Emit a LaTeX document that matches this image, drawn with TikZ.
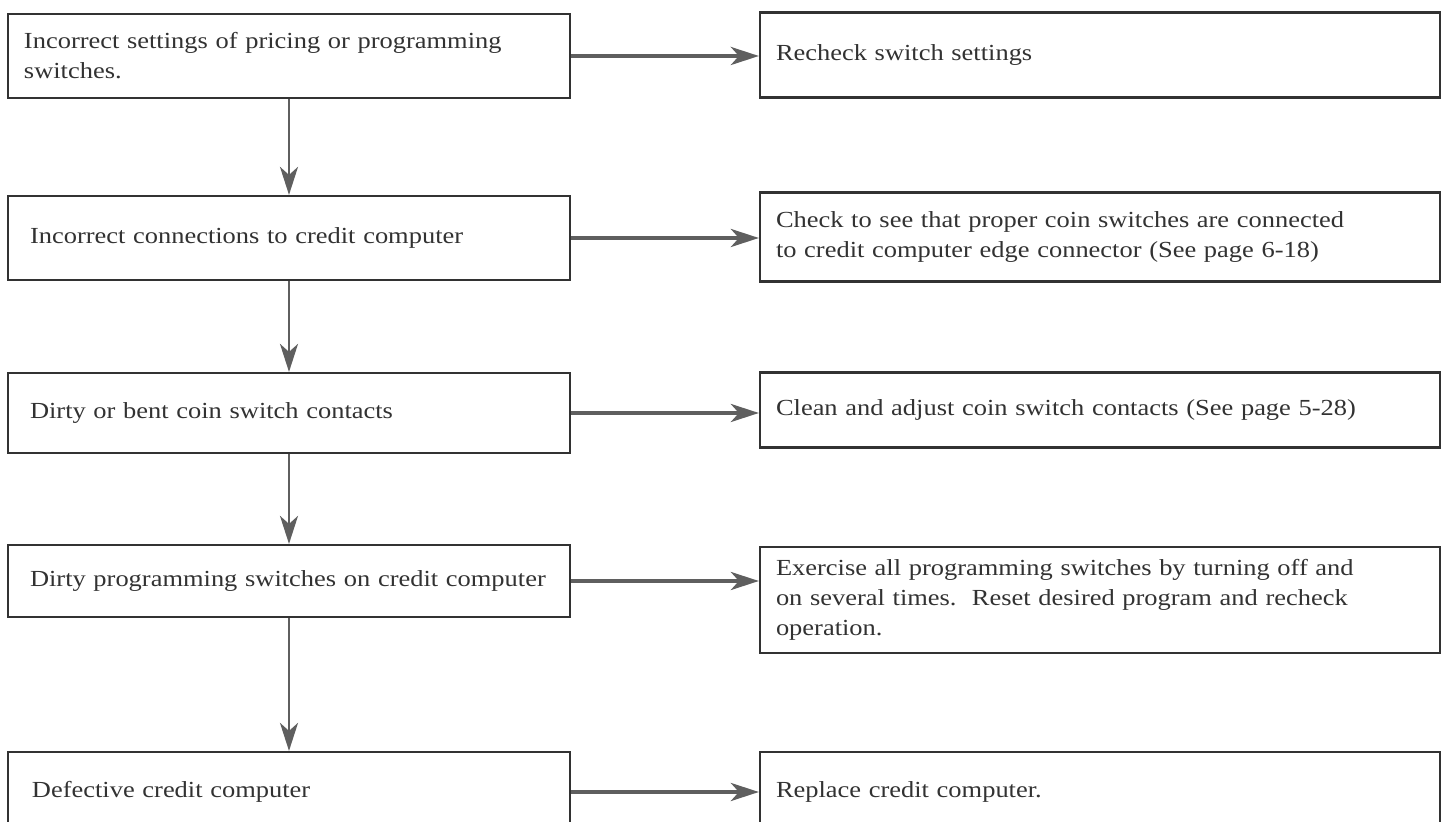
\documentclass[tikz,border=0pt]{standalone}
\usepackage{fontspec}
\setmainfont{Liberation Serif}[FakeStretch=1.15]
\usepackage{tikz}
\usetikzlibrary{arrows.meta}

\definecolor{inkgray}{RGB}{50,50,50}
\definecolor{arrowgray}{RGB}{95,95,95}

\begin{document}
\begin{tikzpicture}[x=0.5pt, y=-0.5pt,
	causebox/.style={draw=inkgray, line width=1.1pt, align=left, inner xsep=8pt,
		text width=265pt, text=inkgray, font=\fontsize{11.5}{15}\selectfont},
	fixbox/.style={draw=inkgray, line width=1.1pt, align=left, inner xsep=8pt,
		text width=324pt, text=inkgray, font=\fontsize{11.5}{15}\selectfont},
	downarrow/.style={draw=arrowgray, line width=1.3pt, -{Stealth[length=14pt, width=9pt, inset=4pt]}},
	sidearrow/.style={draw=arrowgray, line width=2pt, -{Stealth[length=14pt, width=9pt, inset=4pt]}}]
			\useasboundingbox (0,0) rectangle (1449,822);
			\clip (0,0) rectangle (1449,822);
			% Causes (left column)
			\node[causebox, minimum height=42pt] (cause1) at (289, 56) {Incorrect settings of pricing or programming\\switches.};
			\node[causebox, minimum height=42pt] (cause2) at (289, 238) {\hspace*{3pt}Incorrect connections to credit computer};
			\node[causebox, minimum height=40pt] (cause3) at (289, 413) {\hspace*{3pt}Dirty or bent coin switch contacts};
			\node[causebox, minimum height=36pt] (cause4) at (289, 581) {\hspace*{3pt}Dirty programming switches on credit computer};
			\node[causebox, minimum height=40pt] (cause5) at (289, 792) {\hspace*{4pt}Defective credit computer};
			% Remedies (right column)
			\node[fixbox, minimum height=42.5pt] (fix1) at (1100, 55) {Recheck switch settings};
			\node[fixbox, minimum height=44.5pt] (fix2) at (1100, 237) {Check to see that proper coin switches are connected\\to credit computer edge connector (See page 6-18)};
			\node[fixbox, minimum height=37.5pt] (fix3) at (1100, 410) {Clean and adjust coin switch contacts (See page 5-28)};
			\node[fixbox, minimum height=53pt] (fix4) at (1100, 600) {Exercise all programming switches by turning off and\\on several times.\ \ Reset desired program and recheck\\operation.};
			\node[fixbox, minimum height=40pt] (fix5) at (1100, 792) {Replace credit computer.};
			% Down the cause column
			\draw[downarrow] (cause1) -- (cause2);
			\draw[downarrow] (cause2) -- (cause3);
			\draw[downarrow] (cause3) -- (cause4);
			\draw[downarrow] (cause4) -- (cause5);
			% Across to the remedies
			\draw[sidearrow] (cause1.east) -- (cause1.east -| fix1.west);
			\draw[sidearrow] (cause2.east) -- (cause2.east -| fix2.west);
			\draw[sidearrow] (cause3.east) -- (cause3.east -| fix3.west);
			\draw[sidearrow] (cause4.east) -- (cause4.east -| fix4.west);
			\draw[sidearrow] (cause5.east) -- (cause5.east -| fix5.west);
\end{tikzpicture}
\end{document}
